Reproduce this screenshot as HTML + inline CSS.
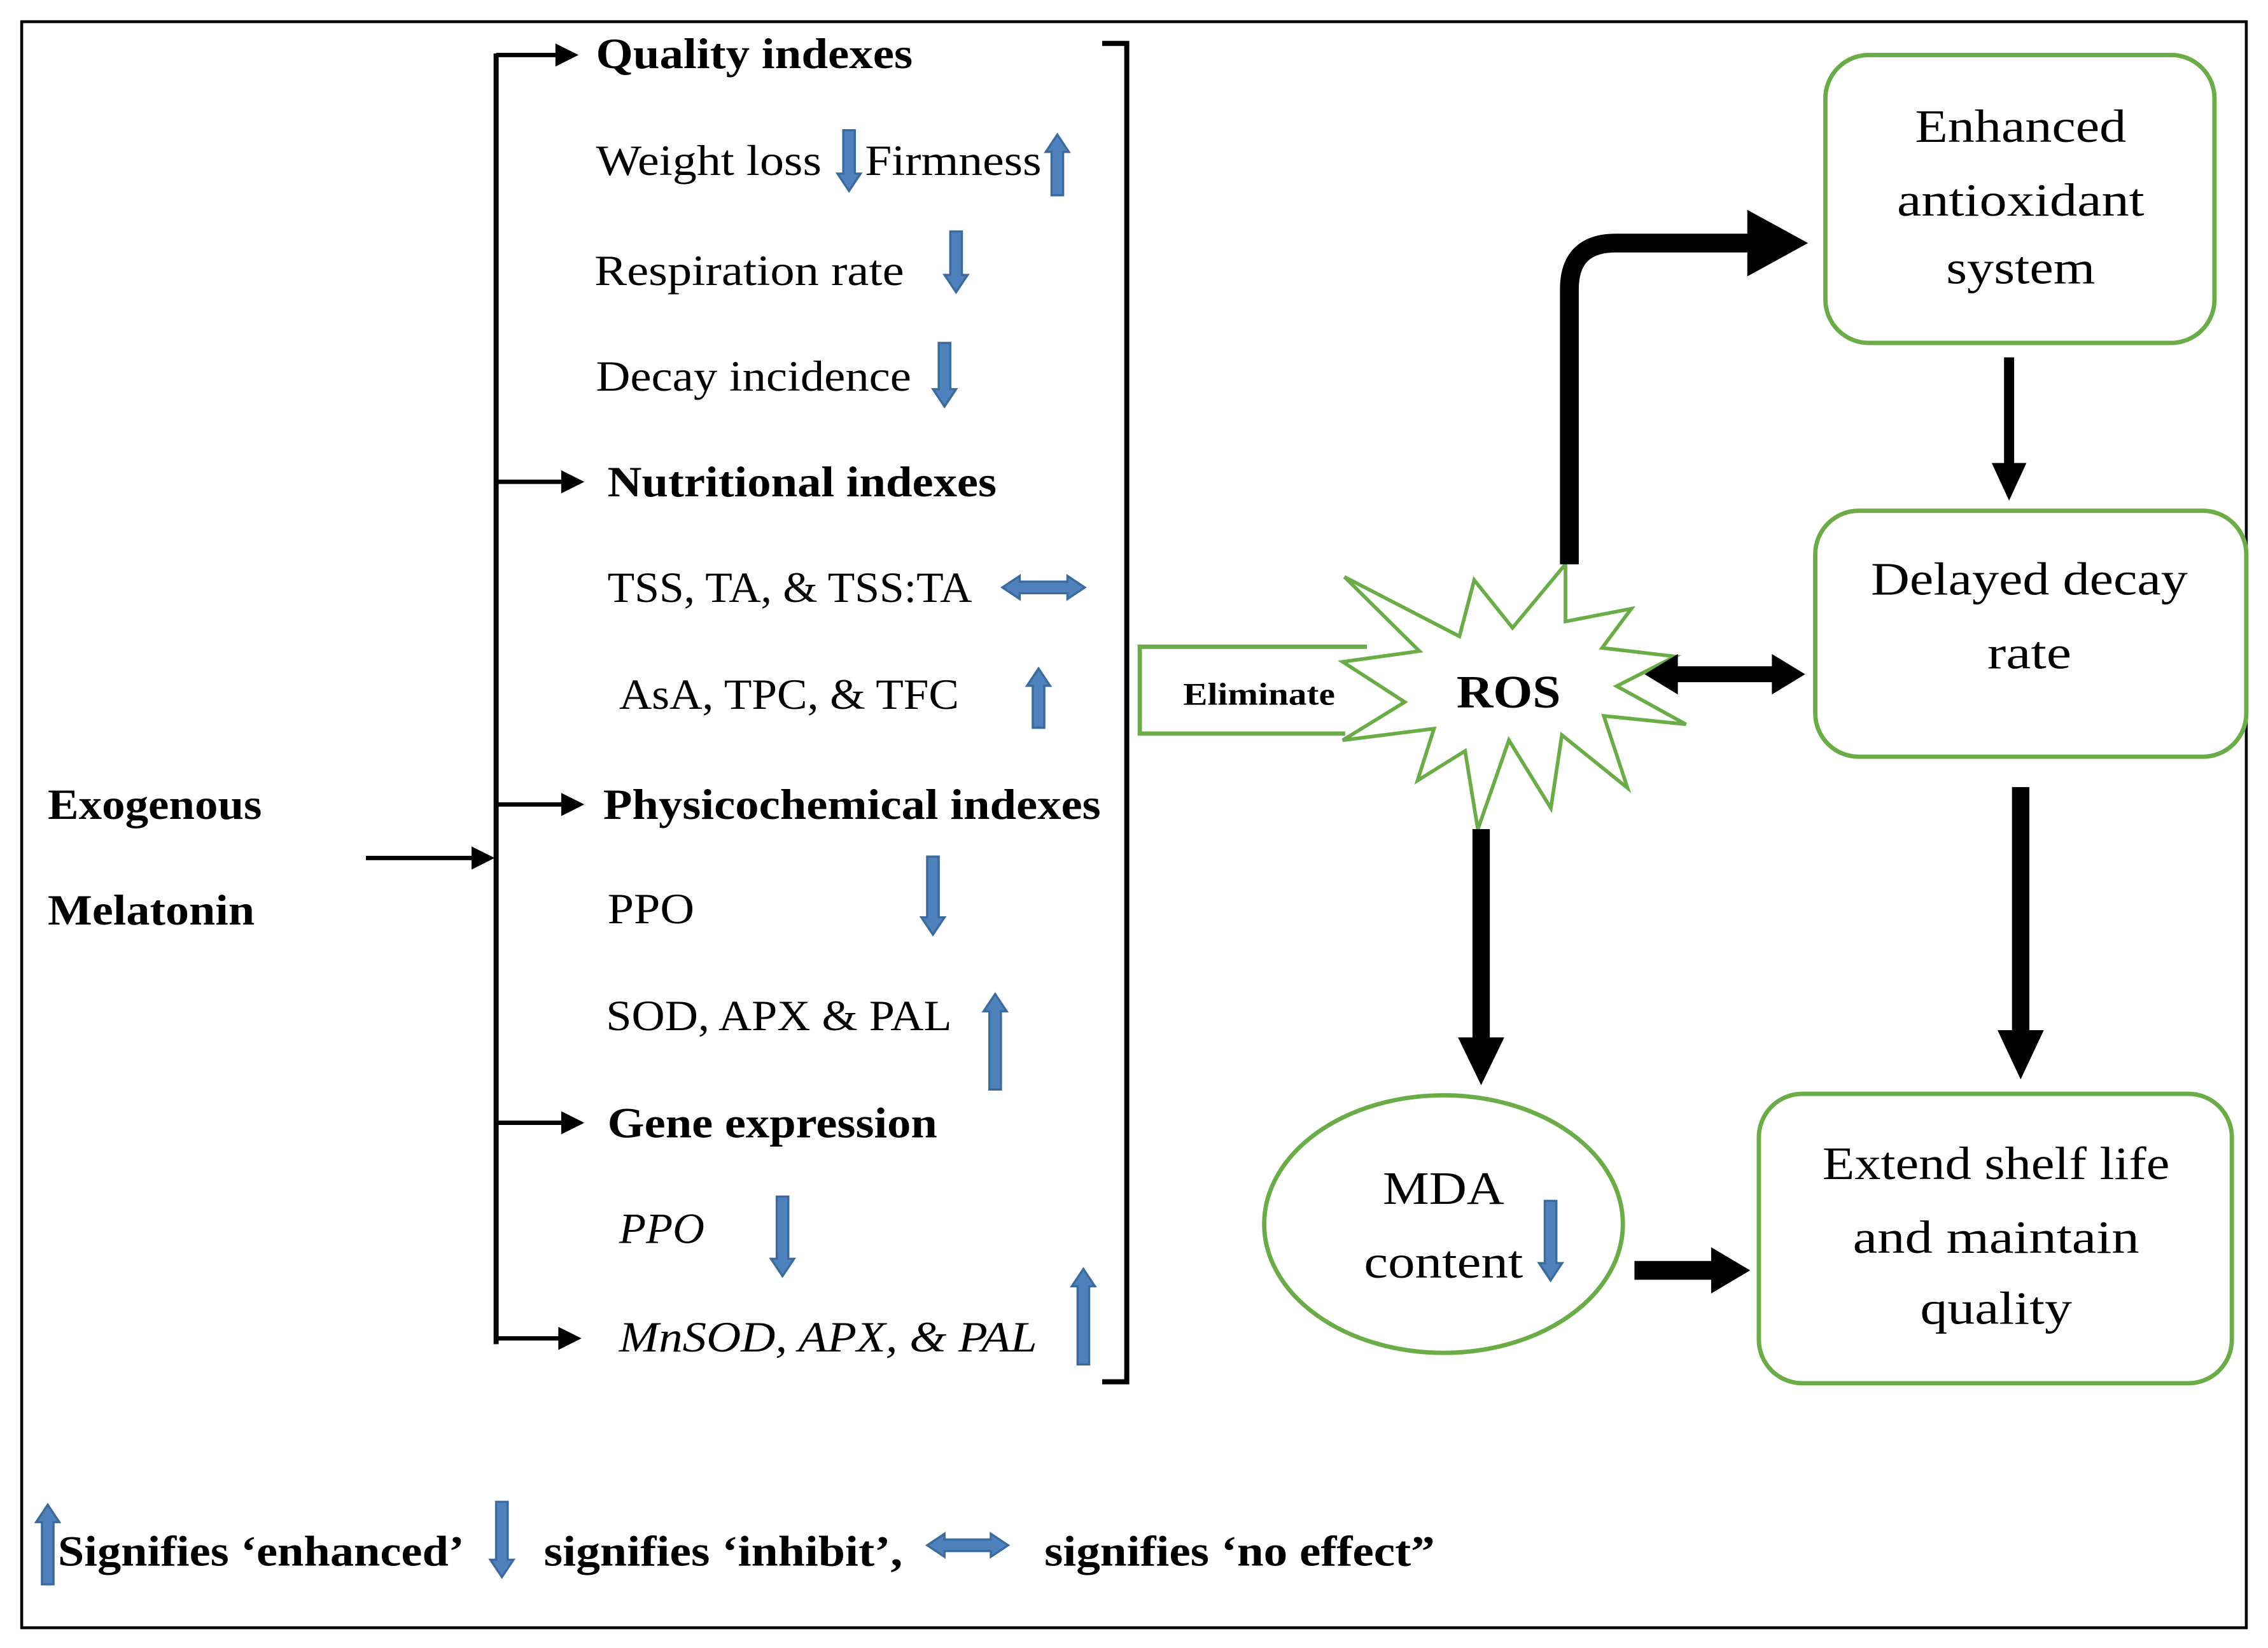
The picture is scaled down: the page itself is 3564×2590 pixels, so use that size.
<!DOCTYPE html>
<html><head><meta charset="utf-8"><style>
html,body{margin:0;padding:0;background:#fff;}
svg{display:block;}
text{font-family:"Liberation Serif",serif;fill:#000;}
.b{font-weight:bold;}
.i{font-style:italic;}
.ba{fill:#4f81bd;stroke:#3a6a9e;stroke-width:1.5;}
</style></head><body>
<svg width="3564" height="2590" viewBox="0 0 1568 1139" preserveAspectRatio="none" xmlns="http://www.w3.org/2000/svg">
<rect x="0" y="0" width="1568" height="1139" fill="#fff"/>
<rect x="15" y="15" width="1538" height="1110" fill="none" stroke="#000" stroke-width="2"/>

<!-- left -->
<text class="b" x="33" y="566" font-size="30" textLength="148" lengthAdjust="spacingAndGlyphs">Exogenous</text>
<text class="b" x="33" y="639" font-size="30" textLength="143" lengthAdjust="spacingAndGlyphs">Melatonin</text>
<line x1="253" y1="593" x2="328" y2="593" stroke="#000" stroke-width="3"/>
<polygon points="342,593 326,585 326,601" fill="#000"/>

<line x1="343" y1="37" x2="343" y2="929" stroke="#000" stroke-width="3.5"/>
<g stroke="#000" stroke-width="3">
<line x1="343" y1="38" x2="386" y2="38"/>
<line x1="343" y1="333" x2="390" y2="333"/>
<line x1="343" y1="556" x2="390" y2="556"/>
<line x1="343" y1="776" x2="390" y2="776"/>
<line x1="343" y1="925" x2="388" y2="925"/>
</g>
<g fill="#000">
<polygon points="400,38 384,30 384,46"/>
<polygon points="404,333 388,325 388,341"/>
<polygon points="404,556 388,548 388,564"/>
<polygon points="404,776 388,768 388,784"/>
<polygon points="402,925 386,917 386,933"/>
</g>

<!-- bracket -->
<polyline points="762,30 779,30 779,955 762,955" fill="none" stroke="#000" stroke-width="3.5"/>

<text class="b" x="412" y="47" font-size="30" textLength="219" lengthAdjust="spacingAndGlyphs">Quality indexes</text>
<text x="412" y="121" font-size="30" textLength="156" lengthAdjust="spacingAndGlyphs">Weight loss</text>
<text x="598" y="121" font-size="30" textLength="122" lengthAdjust="spacingAndGlyphs">Firmness</text>
<text x="411" y="197" font-size="30" textLength="214" lengthAdjust="spacingAndGlyphs">Respiration rate</text>
<text x="412" y="270" font-size="30" textLength="218" lengthAdjust="spacingAndGlyphs">Decay incidence</text>
<text class="b" x="420" y="343" font-size="30" textLength="269" lengthAdjust="spacingAndGlyphs">Nutritional indexes</text>
<text x="420" y="416" font-size="30" textLength="252" lengthAdjust="spacingAndGlyphs">TSS, TA, &amp; TSS:TA</text>
<text x="428" y="490" font-size="30" textLength="235" lengthAdjust="spacingAndGlyphs">AsA, TPC, &amp; TFC</text>
<text class="b" x="417" y="566" font-size="30" textLength="344" lengthAdjust="spacingAndGlyphs">Physicochemical indexes</text>
<text x="420" y="638" font-size="30" textLength="60" lengthAdjust="spacingAndGlyphs">PPO</text>
<text x="419" y="712" font-size="30" textLength="239" lengthAdjust="spacingAndGlyphs">SOD, APX &amp; PAL</text>
<text class="b" x="420" y="786" font-size="30" textLength="228" lengthAdjust="spacingAndGlyphs">Gene expression</text>
<text class="i" x="428" y="859" font-size="30" textLength="59" lengthAdjust="spacingAndGlyphs">PPO</text>
<text class="i" x="428" y="934" font-size="30" textLength="289" lengthAdjust="spacingAndGlyphs">MnSOD, APX, &amp; PAL</text>

<!-- blue arrows -->
<polygon class="ba" points="583,90 591,90 591,120 595,120 587,132 579,120 583,120"/>
<polygon class="ba" points="731,93 739,105 735,105 735,135 727,135 727,105 723,105"/>
<polygon class="ba" points="657,160 665,160 665,190 669,190 661,202 653,190 657,190"/>
<polygon class="ba" points="649,237 657,237 657,269 661,269 653,281 645,269 649,269"/>
<polygon class="ba" points="693,406 705,398 705,402 738,402 738,398 750,406 738,414 738,410 705,410 705,414"/>
<polygon class="ba" points="718,462 726,474 722,474 722,503 714,503 714,474 710,474"/>
<polygon class="ba" points="641,592 649,592 649,634 653,634 645,646 637,634 641,634"/>
<polygon class="ba" points="688,687 696,699 692,699 692,753 684,753 684,699 680,699"/>
<polygon class="ba" points="537,827 545,827 545,870 549,870 541,882 533,870 537,870"/>
<polygon class="ba" points="749,877 757,889 753,889 753,943 745,943 745,889 741,889"/>
<polygon class="ba" points="1068,830 1076,830 1076,873 1080,873 1072,885 1064,873 1068,873"/>

<!-- eliminate -->
<polyline points="945,447 788,447 788,507 930,507" fill="none" stroke="#6aac46" stroke-width="3"/>
<text class="b" x="818" y="487" font-size="22" textLength="105" lengthAdjust="spacingAndGlyphs">Eliminate</text>

<!-- star -->
<polygon points="929.5,398.7 1009,439.8 1019.2,400.9 1045.7,433.9 1082.3,389.9 1082.3,429.5 1127.8,420.7 1107.6,447.8 1158.1,453.7 1117.7,474.2 1165.6,500.6 1108.8,494.8 1125.2,544.6 1079.8,508 1072.2,558.5 1043.2,511.6 1021.7,573.2 1012.9,519 980,539.5 991.4,503.6 928.3,511.6 971.2,485.2 928.3,457.4 981.3,450" fill="#fff" stroke="#6aac46" stroke-width="2.5"/>
<text class="b" x="1043" y="489" font-size="32" text-anchor="middle" textLength="72" lengthAdjust="spacingAndGlyphs">ROS</text>

<!-- thick arrow ROS -> antioxidant -->
<path d="M1085,390 L1085,200 Q1085,168 1117,168 L1210,168" fill="none" stroke="#000" stroke-width="13"/>
<polygon points="1250,168 1208,145 1208,191" fill="#000"/>

<!-- boxes -->
<rect x="1262" y="38" width="269" height="199" rx="30" fill="none" stroke="#6aac46" stroke-width="3"/>
<text x="1397" y="98" font-size="32" text-anchor="middle" textLength="146" lengthAdjust="spacingAndGlyphs">Enhanced</text>
<text x="1397" y="149" font-size="32" text-anchor="middle" textLength="171" lengthAdjust="spacingAndGlyphs">antioxidant</text>
<text x="1397" y="196" font-size="32" text-anchor="middle" textLength="103" lengthAdjust="spacingAndGlyphs">system</text>

<line x1="1389" y1="247" x2="1389" y2="322" stroke="#000" stroke-width="7"/>
<polygon points="1389,346 1377,320 1401,320" fill="#000"/>

<rect x="1255" y="353" width="298" height="170" rx="30" fill="none" stroke="#6aac46" stroke-width="3"/>
<text x="1403" y="411" font-size="32" text-anchor="middle" textLength="219" lengthAdjust="spacingAndGlyphs">Delayed decay</text>
<text x="1403" y="462" font-size="32" text-anchor="middle" textLength="58" lengthAdjust="spacingAndGlyphs">rate</text>

<!-- double arrow ROS <-> delayed -->
<line x1="1155" y1="466" x2="1230" y2="466" stroke="#000" stroke-width="11"/>
<polygon points="1137,466 1160,452 1160,480" fill="#000"/>
<polygon points="1248,466 1225,452 1225,480" fill="#000"/>

<!-- down delayed -> extend -->
<line x1="1397" y1="544" x2="1397" y2="715" stroke="#000" stroke-width="12"/>
<polygon points="1397,746 1381,712 1413,712" fill="#000"/>

<!-- down ROS -> MDA -->
<line x1="1024" y1="573" x2="1024" y2="720" stroke="#000" stroke-width="12"/>
<polygon points="1024,750 1008,717 1040,717" fill="#000"/>

<!-- MDA ellipse -->
<ellipse cx="998" cy="846" rx="124" ry="89" fill="none" stroke="#6aac46" stroke-width="3"/>
<text x="998" y="832" font-size="32" text-anchor="middle" textLength="84" lengthAdjust="spacingAndGlyphs">MDA</text>
<text x="998" y="883" font-size="32" text-anchor="middle" textLength="110" lengthAdjust="spacingAndGlyphs">content</text>

<!-- arrow MDA -> extend -->
<line x1="1130" y1="878" x2="1185" y2="878" stroke="#000" stroke-width="13"/>
<polygon points="1210,878 1183,862 1183,894" fill="#000"/>

<rect x="1216" y="756" width="327" height="200" rx="30" fill="none" stroke="#6aac46" stroke-width="3"/>
<text x="1380" y="815" font-size="32" text-anchor="middle" textLength="240" lengthAdjust="spacingAndGlyphs">Extend shelf life</text>
<text x="1380" y="866" font-size="32" text-anchor="middle" textLength="198" lengthAdjust="spacingAndGlyphs">and maintain</text>
<text x="1380" y="915" font-size="32" text-anchor="middle" textLength="105" lengthAdjust="spacingAndGlyphs">quality</text>

<!-- legend -->
<polygon class="ba" points="33,1040 41,1052 37,1052 37,1095 29,1095 29,1052 25,1052"/>
<text class="b" x="40" y="1082" font-size="30" textLength="281" lengthAdjust="spacingAndGlyphs">Signifies ‘enhanced’</text>
<polygon class="ba" points="343,1038 351,1038 351,1078 355,1078 347,1090 339,1078 343,1078"/>
<text class="b" x="376" y="1082" font-size="30" textLength="248" lengthAdjust="spacingAndGlyphs">signifies ‘inhibit’,</text>
<polygon class="ba" points="641,1068 653,1060 653,1064 685,1064 685,1060 697,1068 685,1076 685,1072 653,1072 653,1076"/>
<text class="b" x="722" y="1082" font-size="30" textLength="270" lengthAdjust="spacingAndGlyphs">signifies ‘no effect”</text>
</svg>
</body></html>
